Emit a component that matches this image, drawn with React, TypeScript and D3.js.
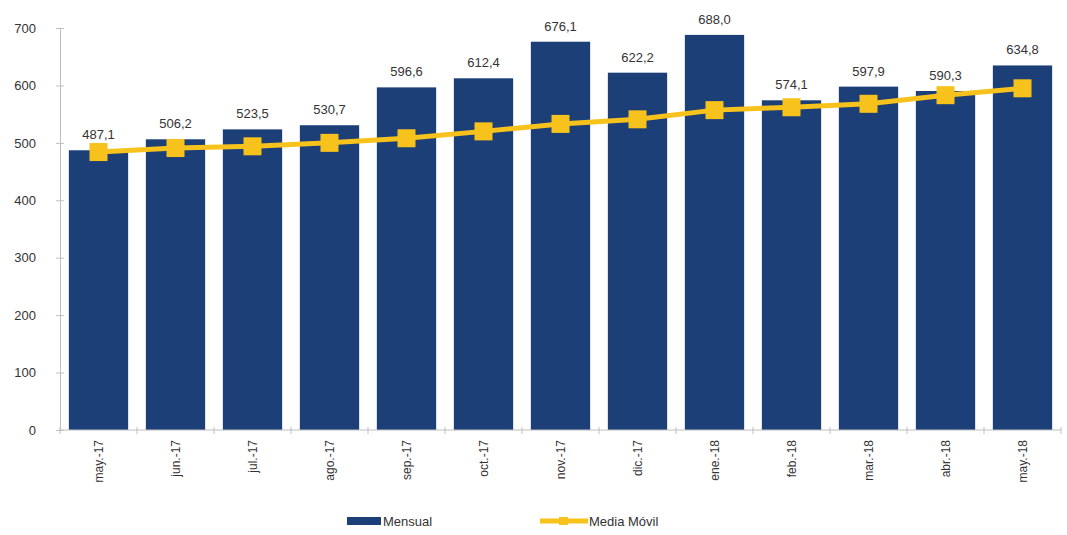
import React, { useEffect, useRef } from "react";
import * as d3 from "d3";

// months shown on the x axis
const months = [
  "may.-17", "jun.-17", "jul.-17", "ago.-17", "sep.-17", "oct.-17", "nov.-17",
  "dic.-17", "ene.-18", "feb.-18", "mar.-18", "abr.-18", "may.-18",
];

// monthly values (bars)
const mensual = [487.1, 506.2, 523.5, 530.7, 596.6, 612.4, 676.1, 622.2, 688.0, 574.1, 597.9, 590.3, 634.8];

// moving average (line)
const mediaMovil = [484, 491, 494, 500, 508, 520, 533, 541, 557, 562, 568, 583, 595];

const yTicks = [0, 100, 200, 300, 400, 500, 600, 700];

const fmt = (v: number) => v.toFixed(1).replace(".", ",");

export default function App() {
  const ref = useRef<SVGSVGElement>(null);

  useEffect(() => {
    document.body.style.margin = "0";
    const width = 1067, height = 535;
    const margin = { top: 28, right: 6, bottom: 105, left: 60 };
    const innerH = height - margin.top - margin.bottom;

    const svg = d3.select(ref.current);
    svg.selectAll("*").remove();

    const g = svg.append("g").attr("transform", `translate(${margin.left},${margin.top})`);

    const x = d3.scaleBand<string>().domain(months).range([0, width - margin.left - margin.right]).paddingInner(0.23).paddingOuter(0.115);
    const y = d3.scaleLinear().domain([0, 700]).range([innerH, 0]);

    const font = "Arial, 'Liberation Sans', sans-serif";

    // y axis
    const yAxis = g.append("g").call(d3.axisLeft(y).tickValues(yTicks).tickSize(4).tickPadding(20));
    yAxis.select(".domain").attr("stroke", "#bfbfbf");
    yAxis.selectAll(".tick line").attr("stroke", "#bfbfbf").attr("x2", 4).attr("x1", -4);
    yAxis.selectAll(".tick text").attr("font-size", 13).attr("font-family", font).attr("fill", "#333");

    // bars
    g.selectAll("rect.bar")
      .data(mensual)
      .enter()
      .append("rect")
      .attr("class", "bar")
      .attr("x", (_, i) => x(months[i])!)
      .attr("y", (d) => y(d))
      .attr("width", x.bandwidth())
      .attr("height", (d) => innerH - y(d))
      .attr("fill", "#1c3f78");

    // x axis
    const step = x.step();
    const xa = g.append("g").attr("transform", `translate(0,${innerH})`);
    xa.append("line").attr("x1", 0).attr("x2", x.range()[1]).attr("stroke", "#bfbfbf");
    xa.selectAll("line.tk")
      .data(d3.range(months.length + 1))
      .enter()
      .append("line")
      .attr("x1", (i) => i * step)
      .attr("x2", (i) => i * step)
      .attr("y1", -3)
      .attr("y2", 4)
      .attr("stroke", "#bfbfbf");
    xa.selectAll("text")
      .data(months)
      .enter()
      .append("text")
      .attr("transform", (d) => `translate(${x(d)! + x.bandwidth() / 2 + 4},10) rotate(-90)`)
      .attr("text-anchor", "end")
      .attr("font-size", 12)
      .attr("font-family", font)
      .attr("fill", "#333")
      .text((d) => d);

    // moving average line
    const cx = (i: number) => x(months[i])! + x.bandwidth() / 2;
    g.append("path")
      .datum(mediaMovil)
      .attr("fill", "none")
      .attr("stroke", "#f7c21b")
      .attr("stroke-width", 5)
      .attr("d", d3.line<number>().x((_, i) => cx(i)).y((d) => y(d)));

    g.selectAll("rect.mk")
      .data(mediaMovil)
      .enter()
      .append("rect")
      .attr("class", "mk")
      .attr("x", (_, i) => cx(i) - 9)
      .attr("y", (d) => y(d) - 9)
      .attr("width", 18)
      .attr("height", 18)
      .attr("fill", "#f7c21b");

    // value labels
    g.selectAll("text.val")
      .data(mensual)
      .enter()
      .append("text")
      .attr("class", "val")
      .attr("x", (_, i) => cx(i))
      .attr("y", (d) => y(d) - 11)
      .attr("text-anchor", "middle")
      .attr("font-size", 13)
      .attr("font-family", font)
      .attr("fill", "#333")
      .text((d) => fmt(d));

    // legend
    const lg = svg.append("g").attr("transform", `translate(0,${height - 14})`);
    lg.append("rect").attr("x", 347).attr("y", -4).attr("width", 34).attr("height", 8).attr("fill", "#1c3f78");
    lg.append("text").attr("x", 383).attr("y", 5).attr("font-size", 13).attr("font-family", font).attr("fill", "#333").text("Mensual");
    lg.append("line").attr("x1", 540).attr("x2", 588).attr("y1", 0).attr("y2", 0).attr("stroke", "#f7c21b").attr("stroke-width", 5);
    lg.append("rect").attr("x", 559).attr("y", -4).attr("width", 9).attr("height", 8).attr("fill", "#f7c21b");
    lg.append("text").attr("x", 589).attr("y", 5).attr("font-size", 13).attr("font-family", font).attr("fill", "#333").text("Media Móvil");
  }, []);

  return <svg ref={ref} width={1067} height={535} style={{ display: "block", background: "#fff" }} />;
}
